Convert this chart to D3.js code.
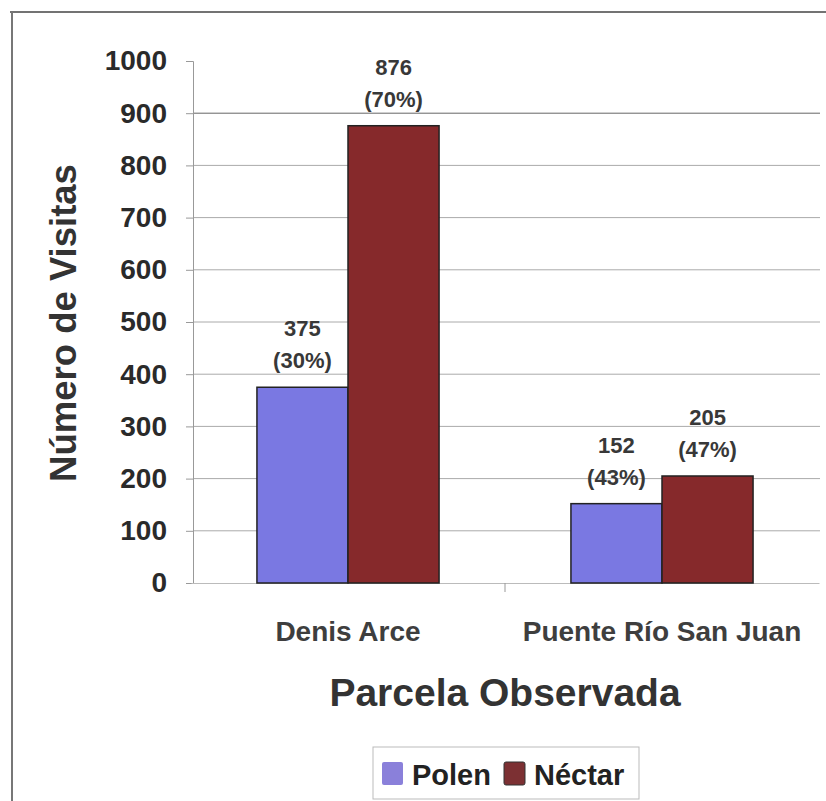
<!DOCTYPE html>
<html><head><meta charset="utf-8">
<script src="https://cdn.jsdelivr.net/npm/d3@7"></script>
<style>body{margin:0;background:#fff}svg{display:block;font-family:Arial,"Liberation Sans",sans-serif}</style>
</head><body>
<script>
const categories = ["Denis Arce", "Puente Río San Juan"];
const seriesNames = ["Polen", "Néctar"];
const polen = [375, 152];
const nectar = [876, 205];
const polenPct = ["30%", "43%"];
const nectarPct = ["70%", "47%"];
const yTicks = [0,100,200,300,400,500,600,700,800,900,1000];

const W = 826, H = 801;
const svg = d3.select("body").append("svg").attr("width", W).attr("height", H);

// outer frame
svg.append("line").attr("x1",10).attr("x2",W).attr("y1",12).attr("y2",12).attr("stroke","#444").attr("stroke-width",1.5);
svg.append("line").attr("x1",12).attr("x2",12).attr("y1",12).attr("y2",H).attr("stroke","#777").attr("stroke-width",2);

const mLeft = 193, mRight = 820, mTop = 61, mBottom = 583;
const x0 = d3.scaleBand().domain(categories).range([191, 819]).paddingInner(0.42).paddingOuter(0.21);
const x1 = d3.scaleBand().domain(seriesNames).range([0, x0.bandwidth()]);
const y = d3.scaleLinear().domain([0, 1000]).range([mBottom, mTop]);
const color = d3.scaleOrdinal().domain(seriesNames).range(["#7a78e2", "#86292b"]);

// gridlines
svg.append("g").selectAll("line").data(yTicks.filter(d => d > 0 && d < 1000)).join("line")
  .attr("x1", mLeft).attr("x2", mRight).attr("y1", d => y(d)).attr("y2", d => y(d))
  .attr("stroke", d => d === 900 ? "#666" : "#aaa").attr("stroke-width", 1);

// y axis
const yAxis = svg.append("g").attr("transform", `translate(${mLeft},0)`)
  .call(d3.axisLeft(y).tickValues(yTicks).tickFormat(d3.format("d")).tickSize(7).tickPadding(19));
yAxis.select(".domain").attr("stroke", "#999");
yAxis.selectAll(".tick line").attr("stroke", "#999");
yAxis.selectAll("text").attr("font-size", 28).attr("font-weight", "bold").attr("fill", "#2a2a2a");

// x axis
const xAxis = svg.append("g").attr("transform", `translate(0,${mBottom})`)
  .call(d3.axisBottom(x0).tickSize(0).tickPadding(38));
xAxis.select(".domain").attr("stroke", "#bbb");
xAxis.selectAll("text").attr("font-size", 28).attr("font-weight", "bold").attr("fill", "#3e3e3e");
svg.append("line").attr("x1", 505).attr("x2", 505).attr("y1", mBottom).attr("y2", mBottom+9).attr("stroke", "#999");

// bars
const data = categories.map((c, i) => ({cat: c, vals: [
  {s: "Polen", v: polen[i], p: polenPct[i]},
  {s: "Néctar", v: nectar[i], p: nectarPct[i]}]}));
const g = svg.append("g").selectAll("g").data(data).join("g")
  .attr("transform", d => `translate(${x0(d.cat)},0)`);
g.selectAll("rect").data(d => d.vals).join("rect")
  .attr("x", d => x1(d.s)).attr("width", x1.bandwidth())
  .attr("y", d => y(d.v)).attr("height", d => y(0) - y(d.v))
  .attr("fill", d => color(d.s)).attr("stroke", "#222").attr("stroke-width", 1.5);
const lab = g.selectAll("text.lab").data(d => d.vals).join("text").attr("class", "lab")
  .attr("text-anchor", "middle").attr("font-size", 22).attr("font-weight", "bold").attr("fill", "#383838");
lab.append("tspan").attr("x", d => x1(d.s) + x1.bandwidth()/2).attr("y", d => y(d.v) - 51).text(d => d.v);
lab.append("tspan").attr("x", d => x1(d.s) + x1.bandwidth()/2).attr("y", d => y(d.v) - 19).text(d => `(${d.p})`);

// axis titles
svg.append("text").attr("transform", `translate(76,323) rotate(-90)`)
  .attr("text-anchor", "middle").attr("font-size", 36.5).attr("font-weight", "bold").attr("fill", "#333")
  .text("Número de Visitas");
svg.append("text").attr("x", 505).attr("y", 706).attr("text-anchor", "middle")
  .attr("font-size", 39).attr("font-weight", "bold").attr("fill", "#333").text("Parcela Observada");

// legend
const lg = svg.append("g").attr("transform", "translate(373,747)");
lg.append("rect").attr("width", 266).attr("height", 52).attr("fill", "#fff").attr("stroke", "#bbb");
const items = [{s: "Polen", x: 9, fill: "#8a80da"}, {s: "Néctar", x: 131, fill: "#7c3033"}];
items.forEach(it => {
  lg.append("rect").attr("x", it.x).attr("y", 15).attr("width", 21).attr("height", 23).attr("rx", 2)
    .attr("fill", it.fill).attr("stroke", it.s === "Néctar" ? "#333" : "none");
  lg.append("text").attr("x", it.x + 30).attr("y", 38).attr("font-size", 29).attr("font-weight", "bold")
    .attr("fill", "#222").text(it.s);
});
</script>
</body></html>
